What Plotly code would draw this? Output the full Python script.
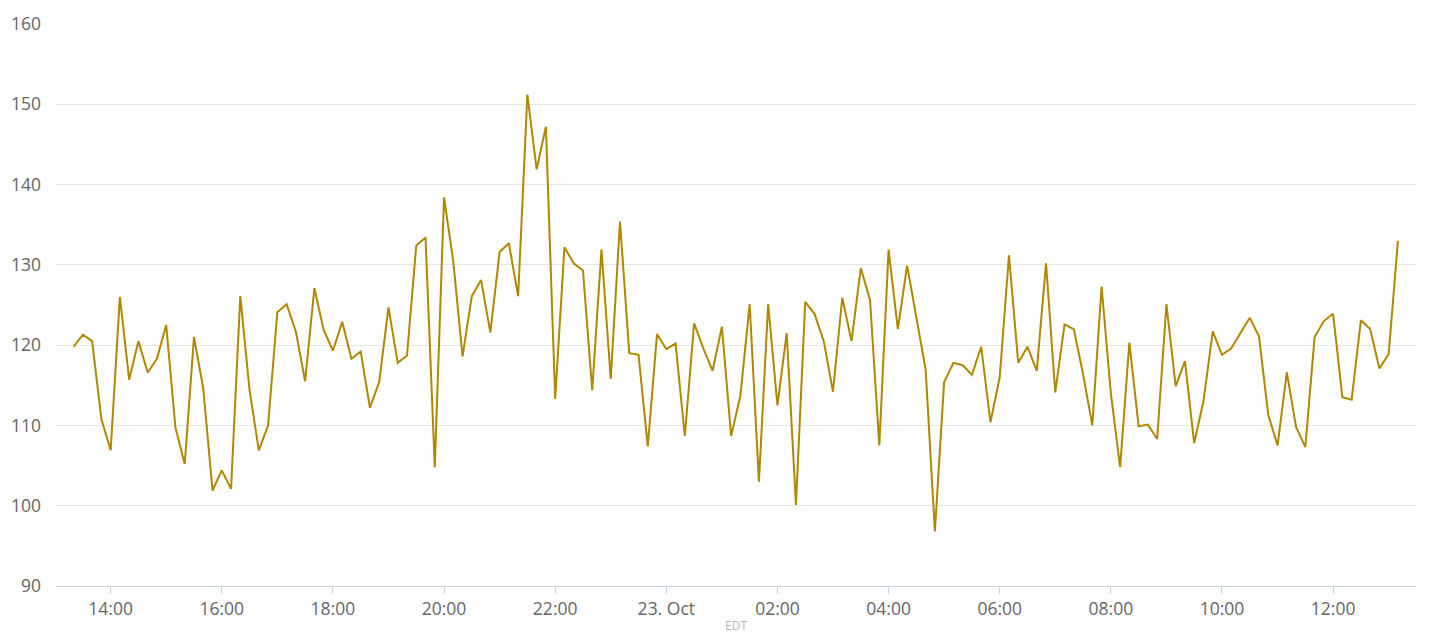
import pandas as pd
import plotly.graph_objects as go

start_time = "2023-10-22 13:20"
interval_minutes = 10

values = [
    119.8, 121.3, 120.5, 110.8, 106.9, 126.0, 115.7, 120.5, 116.6, 118.3,
    122.5, 109.7, 105.2, 121.0, 114.6, 101.9, 104.4, 102.1, 126.1,
    114.4, 106.9, 110.0, 124.1, 125.1, 121.7, 115.5, 127.1, 121.9, 119.3,
    122.9, 118.3, 119.2, 112.2, 115.4, 124.7, 117.8, 118.7,
    132.4, 133.4, 104.8, 138.4, 130.4, 118.6, 126.1, 128.1, 121.6, 131.6,
    132.7, 126.1, 151.2, 141.9, 147.2, 113.3, 132.2, 130.2,
    129.3, 114.4, 131.9, 115.8, 135.4, 119.0, 118.8, 107.4, 121.4, 119.5,
    120.2, 108.7, 122.7, 119.6, 116.8, 122.3, 108.7, 113.7, 125.1,
    103.0, 125.1, 112.5, 121.5, 100.1, 125.4, 123.9, 120.5, 114.2, 125.9,
    120.5, 129.6, 125.6, 107.5, 131.9, 122.0, 129.9, 123.3,
    117.0, 96.8, 115.4, 117.8, 117.5, 116.3, 119.8, 110.4, 116.0, 131.2,
    117.8, 119.8, 116.8, 130.2, 114.1, 122.6, 122.0, 116.4,
    110.0, 127.3, 114.0, 104.8, 120.3, 109.9, 110.1, 108.3, 125.1, 114.9,
    118.0, 107.8, 113.0, 121.7, 118.8, 119.6, 121.5, 123.4, 121.1,
    111.3, 107.5, 116.6, 109.8, 107.3, 121.0, 123.0, 123.9, 113.5, 113.2,
    123.1, 122.0, 117.1, 118.9, 133.0,
]

times = pd.date_range(start=start_time, periods=len(values), freq=f"{interval_minutes}min")

tick_times = pd.date_range(start="2023-10-22 14:00", end="2023-10-23 12:00", freq="2h")
tick_labels = ["14:00", "16:00", "18:00", "20:00", "22:00", "23. Oct",
               "02:00", "04:00", "06:00", "08:00", "10:00", "12:00"]

y_ticks = [90, 100, 110, 120, 130, 140, 150, 160]
x_range = ["2023-10-22 13:01", "2023-10-23 13:29:30"]

fig = go.Figure()
fig.add_trace(go.Scatter(
    x=times, y=values, mode="lines",
    line=dict(color="#b08800", width=2),
    hoverinfo="x+y", showlegend=False,
))

# The page body adds an 8px offset, so the figure is sized 1432x632.
fig.update_layout(
    width=1432, height=632,
    margin=dict(l=48, r=24, t=16, b=54, autoexpand=False),
    paper_bgcolor="white", plot_bgcolor="white",
    font=dict(family="Open Sans, Noto Sans, sans-serif", color="#666666", size=17.5),
)

fig.update_xaxes(
    type="date",
    range=x_range,
    automargin=False,
    tickvals=tick_times, ticktext=tick_labels,
    showgrid=False, zeroline=False,
    showline=True, linecolor="#ccd6eb", linewidth=1,
    ticks="outside", ticklen=7, tickcolor="#ccd6eb", tickwidth=1,
    tickfont=dict(size=17.5, color="#666666"),
    title=dict(text="EDT", font=dict(size=12, color="#b5b5b5"), standoff=2),
)

fig.update_yaxes(
    range=[90, 160],
    automargin=False,
    tickvals=y_ticks,
    showgrid=True, gridcolor="#e6e6e6", gridwidth=1,
    zeroline=False, showline=False,
    ticks="", ticklabelstandoff=14,
    tickfont=dict(size=17.5, color="#666666"),
)

fig.write_html("out.html")
